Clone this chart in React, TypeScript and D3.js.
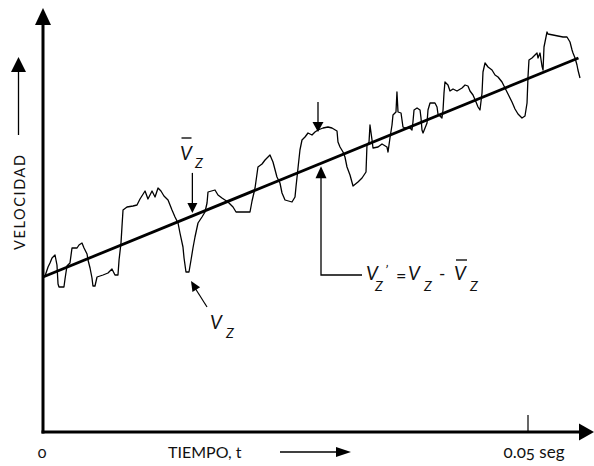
import React from 'react';
import * as d3 from 'd3';

const W = 594;
const H = 466;

// Instantaneous velocity v_z(t): time in ms, velocity in arbitrary units
const velocityTrace: [number, number][] = [
  [0.21, 39.0], [0.52, 41.25], [0.72, 42.25], [0.93, 43.5], [1.24, 44.25], [1.44, 41.75],
  [1.55, 37.0], [1.65, 36.25], [2.16, 36.25], [2.27, 38.25], [2.47, 41.5], [2.78, 42.25],
  [2.99, 46.0], [3.51, 46.0], [3.71, 46.75], [4.02, 47.25], [4.23, 46.0], [4.54, 44.5],
  [4.64, 43.0], [4.85, 41.0], [5.05, 38.5], [5.15, 36.5], [5.36, 36.5], [5.57, 38.75],
  [6.19, 39.25], [6.7, 39.75], [7.11, 40.75], [7.42, 39.25], [7.73, 39.25], [7.84, 43.0],
  [8.04, 47.25], [8.14, 51.25], [8.25, 55.5], [8.66, 56.25], [9.28, 56.5], [9.69, 56.75],
  [10.0, 58.25], [10.52, 60.25], [10.82, 58.25], [11.24, 60.25], [11.55, 58.75], [11.86, 61.0],
  [12.16, 60.25], [12.47, 59.0], [12.89, 58.0], [13.3, 55.5], [13.61, 53.75], [13.92, 52.25],
  [14.12, 49.75], [14.43, 46.25], [14.54, 43.5], [14.74, 40.0], [15.05, 40.0], [15.26, 43.0],
  [15.46, 46.0], [15.67, 48.75], [15.98, 52.25], [16.39, 53.75], [16.7, 55.0], [16.91, 57.25],
  [17.01, 60.0], [17.73, 60.5], [18.04, 59.25], [18.45, 58.5], [19.07, 57.5], [19.59, 56.25],
  [19.9, 55.0], [21.34, 55.0], [21.55, 57.75], [21.86, 61.0], [22.06, 64.5], [22.16, 66.25],
  [22.58, 67.0], [22.89, 68.0], [23.4, 69.25], [23.71, 67.5], [24.12, 63.75], [24.43, 62.25],
  [24.64, 59.75], [24.95, 58.0], [25.67, 57.5], [25.98, 58.75], [26.08, 61.25], [26.29, 66.0],
  [26.49, 70.5], [26.7, 73.0], [27.01, 73.75], [27.32, 74.75], [27.73, 74.25], [28.04, 75.0],
  [28.35, 75.5], [28.87, 76.0], [29.38, 76.25], [29.79, 76.0], [30.31, 75.25], [30.41, 72.5],
  [30.62, 71.25], [30.93, 70.0], [31.13, 68.75], [31.34, 66.25], [31.65, 64.25], [31.96, 61.5],
  [32.47, 62.5], [32.89, 63.5], [33.3, 65.0], [33.4, 71.75], [33.61, 72.5], [33.71, 76.75],
  [33.92, 73.0], [34.02, 71.0], [34.54, 71.25], [34.95, 72.0], [35.46, 71.25], [35.57, 70.0],
  [35.77, 73.5], [35.98, 76.75], [36.08, 79.25], [36.39, 80.0], [36.49, 85.0], [36.6, 80.0],
  [36.91, 79.75], [37.01, 78.0], [37.11, 76.25], [37.32, 76.0], [37.84, 76.0], [38.04, 75.5],
  [38.14, 77.5], [38.25, 80.5], [38.56, 81.0], [38.87, 80.5], [38.97, 78.5], [39.07, 75.5],
  [39.18, 74.75], [39.59, 77.25], [39.69, 80.5], [39.9, 82.25], [40.41, 82.25], [40.62, 81.25],
  [40.72, 79.5], [41.13, 78.5], [41.24, 80.5], [41.34, 84.75], [41.44, 87.5], [41.75, 86.75],
  [41.96, 85.25], [42.27, 85.75], [42.68, 85.25], [43.2, 86.0], [43.51, 86.75], [43.81, 86.5],
  [44.02, 85.25], [44.33, 84.25], [44.64, 82.5], [44.85, 81.25], [45.05, 80.5], [45.26, 84.75],
  [45.36, 90.0], [45.57, 92.25], [45.88, 91.25], [46.29, 90.5], [46.6, 89.25], [46.91, 88.75],
  [47.32, 87.5], [47.63, 86.0], [47.94, 84.5], [48.35, 82.5], [48.66, 80.75], [48.97, 79.5],
  [49.38, 78.5], [49.69, 79.0], [49.9, 82.25], [50.0, 88.75], [50.1, 93.0], [50.41, 93.5],
  [50.72, 94.25], [50.93, 94.75], [51.03, 93.5], [51.24, 94.75], [51.44, 91.5], [51.55, 90.5],
  [51.65, 96.25], [51.96, 100.0], [52.06, 99.5], [52.58, 99.25], [53.09, 99.0], [53.61, 98.75],
  [54.02, 98.75], [54.33, 97.5], [54.54, 95.5], [54.64, 94.75], [54.85, 93.5], [55.05, 91.75],
  [55.15, 90.5], [55.36, 88.5],
];

// Time-averaged velocity (straight trend line)
const meanTrend: [number, number][] = [
  [0, 38.75],
  [55.2, 93.5],
];

const xTickValues = [0, 50];
const xTickLabels = ['0', '0.05 seg'];
const xAxisTitle = 'TIEMPO, t';
const yAxisTitle = 'VELOCIDAD';

// Annotation anchors (time in ms)
const meanArrowT = 15.4;
const dipArrowT = 15.26;
const peakArrowT = 28.35;
const fluctArrowT = 28.66;

const FONT = 'Lato, "Open Sans", sans-serif';
const INK = '#000';
const TEXT = '#111';

const x = d3.scaleLinear().domain([0, 50]).range([43, 528]);
const y = d3.scaleLinear().domain([0, 105]).range([432, 12]);

const line = d3
  .line<[number, number]>()
  .x((d) => x(d[0]))
  .y((d) => y(d[1]));

const meanAt = (t: number) => {
  const [a, b] = meanTrend;
  return a[1] + ((b[1] - a[1]) * (t - a[0])) / (b[0] - a[0]);
};
const traceAt = (t: number) => {
  const i = d3.bisector((d: [number, number]) => d[0]).left(velocityTrace, t);
  return velocityTrace[Math.min(i, velocityTrace.length - 1)][1];
};

// filled triangular arrowhead, tip at (tx, ty), pointing along angle (radians)
function head(tx: number, ty: number, angle: number, len: number, half: number) {
  const bx = tx - len * Math.cos(angle);
  const by = ty - len * Math.sin(angle);
  const px = -Math.sin(angle) * half;
  const py = Math.cos(angle) * half;
  return `M${tx},${ty}L${bx + px},${by + py}L${bx - px},${by - py}Z`;
}

const VZ = ({ vx, vy, zx, zy, bar }: { vx: number; vy: number; zx: number; zy: number; bar?: boolean }) => (
  <g fill={TEXT} fontFamily={FONT} fontStyle="italic">
    <text x={vx} y={vy} fontSize={19}>V</text>
    <text x={zx} y={zy} fontSize={14}>Z</text>
    {bar && <line x1={vx + 1.5} x2={vx + 11.5} y1={vy - 22} y2={vy - 22} stroke={TEXT} strokeWidth={1.4} />}
  </g>
);

export default function App() {
  const x0 = x(0);
  const y0 = y(0);

  const mX = x(meanArrowT);
  const mTip = y(meanAt(meanArrowT)) - 3;

  const dX = x(dipArrowT);
  const dTip = y(40) + 9;
  const dStartX = dX + 16;
  const dStartY = dTip + 26;
  const dAng = Math.atan2(dTip - dStartY, dX - dStartX);

  const pX = x(peakArrowT);
  const pTip = y(traceAt(peakArrowT)) + 2;

  const fX = x(fluctArrowT);
  const fTip = y(meanAt(fluctArrowT)) + 3;

  return (
    <svg width={W} height={H} style={{ position: 'absolute', left: 0, top: 0, background: '#fff' }}>
      {/* axes */}
      <line x1={x0} x2={x0} y1={y0 + 1.5} y2={24} stroke={INK} strokeWidth={3} />
      <path d={head(x0, 8, -Math.PI / 2, 17, 8)} fill={INK} />
      <line x1={x0 - 1.5} x2={582} y1={y0} y2={y0} stroke={INK} strokeWidth={3} />
      <path d={head(594, y0, 0, 15, 8.5)} fill={INK} />

      {/* x ticks */}
      {xTickValues.map((t, i) =>
        t === 0 ? null : (
          <line key={`tk${i}`} x1={x(t)} x2={x(t)} y1={y0} y2={y0 - 17} stroke={INK} strokeWidth={1.2} />
        )
      )}
      {xTickValues.map((t, i) => (
        <text
          key={`tl${i}`}
          x={t === 0 ? x(t) - 1 : x(t) + 6}
          y={458}
          textAnchor="middle"
          fontFamily={FONT}
          fontSize={t === 0 ? 16 : 17}
          fill={TEXT}
          style={{ fontVariantNumeric: 'oldstyle-nums' }}
        >
          {xTickLabels[i]}
        </text>
      ))}

      {/* axis titles with direction arrows */}
      <text x={168} y={458} fontFamily={FONT} fontSize={16} fill={TEXT}>
        {xAxisTitle}
      </text>
      <line x1={280} x2={337} y1={452} y2={452} stroke={INK} strokeWidth={1.3} />
      <path d={head(351, 452, 0, 15, 5)} fill={INK} />

      <text
        transform={`translate(25,250) rotate(-90)`}
        fontFamily={FONT}
        fontSize={14.5}
        fill={TEXT}
        textLength={95}
        lengthAdjust="spacing"
      >
        {yAxisTitle}
      </text>
      <line x1={18.5} x2={18.5} y1={135} y2={70} stroke={INK} strokeWidth={1.3} />
      <path d={head(18.5, 57, -Math.PI / 2, 15, 7.5)} fill={INK} />

      {/* fluctuating velocity */}
      <path d={line(velocityTrace) ?? ''} fill="none" stroke={INK} strokeWidth={1.3} strokeLinejoin="round" />

      {/* mean velocity */}
      <path d={line(meanTrend) ?? ''} fill="none" stroke={INK} strokeWidth={2.8} />

      {/* mean annotation */}
      <line x1={mX} x2={mX} y1={mTip - 40} y2={mTip - 8} stroke={INK} strokeWidth={1.3} />
      <path d={head(mX, mTip, Math.PI / 2, 10, 5)} fill={INK} />
      <VZ vx={180} vy={160} zx={195} zy={168} bar />

      {/* instantaneous annotation */}
      <line x1={dStartX} x2={dX + 4} y1={dStartY} y2={dTip + 7} stroke={INK} strokeWidth={1.2} />
      <path d={head(dX, dTip, dAng, 10, 4.5)} fill={INK} />
      <VZ vx={210} vy={329} zx={226} zy={338} />

      {/* peak arrow */}
      <line x1={pX} x2={pX} y1={pTip - 30} y2={pTip - 8} stroke={INK} strokeWidth={1.3} />
      <path d={head(pX, pTip, Math.PI / 2, 10, 5.5)} fill={INK} />

      {/* fluctuation annotation */}
      <path d={`M362,275H${fX}V${fTip + 10}`} fill="none" stroke={INK} strokeWidth={1.3} />
      <path d={head(fX, fTip, -Math.PI / 2, 12, 5.5)} fill={INK} />
      <g fill={TEXT} fontFamily={FONT}>
        <text x={366} y={280} fontSize={19} fontStyle="italic">V</text>
        <text x={385} y={275} fontSize={14} fontStyle="italic">’</text>
        <text x={375} y={291} fontSize={14} fontStyle="italic">Z</text>
        <text x={396} y={282} fontSize={18}>=</text>
        <text x={408} y={280} fontSize={19} fontStyle="italic">V</text>
        <text x={424} y={291} fontSize={14} fontStyle="italic">Z</text>
        <text x={439} y={280} fontSize={17}>-</text>
        <text x={454} y={280} fontSize={19} fontStyle="italic">V</text>
        <line x1={456} x2={467} y1={260} y2={260} stroke={TEXT} strokeWidth={1.4} />
        <text x={470} y={291} fontSize={14} fontStyle="italic">Z</text>
      </g>
    </svg>
  );
}
